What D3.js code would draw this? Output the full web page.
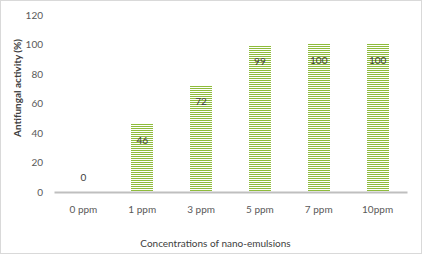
<!DOCTYPE html>
<html>
<head>
<meta charset="utf-8">
<script src="https://cdn.jsdelivr.net/npm/d3@7"></script>
<style>
  body { margin: 0; background: #fff; }
  text { font-family: Lato, "Open Sans", sans-serif; }
</style>
</head>
<body>
<div id="chart"></div>
<script>
const categories = ["0 ppm", "1 ppm", "3 ppm", "5 ppm", "7 ppm", "10ppm"];
const activity = [0, 46, 72, 99, 100, 100];
const yTicks = [0, 20, 40, 60, 80, 100, 120];

const W = 423, H = 255;
const margin = { top: 15, right: 16, bottom: 63, left: 54 },
    width = W - margin.left - margin.right,
    height = H - margin.top - margin.bottom;

const root = d3.select("#chart").append("svg")
    .attr("width", W)
    .attr("height", H);

// outer border
root.append("rect")
    .attr("x", 0.5).attr("y", 0.5)
    .attr("width", W - 2).attr("height", H - 2)
    .attr("fill", "#fff")
    .attr("stroke", "#d9d9d9");

const svg = root.append("g")
    .attr("transform", `translate(${margin.left},${margin.top})`);

const x = d3.scaleBand()
    .domain(categories)
    .range([0, width])
    .padding(0);

const y = d3.scaleLinear()
    .domain([0, 120])
    .range([height, 0]);

const barW = Math.round(x.bandwidth() * 0.375);
const bars = categories.map((c, i) => ({ c: c, v: activity[i] }));

// y axis labels (no line)
const yAxis = svg.append("g")
    .call(d3.axisLeft(y).tickValues(yTicks).tickSize(0).tickPadding(11));
yAxis.select(".domain").remove();
yAxis.selectAll("text")
    .attr("fill", "#595959")
    .style("font-size", "10px");

// bars: thick dashed vertical strokes give the horizontal stripe fill
svg.selectAll("line.bar")
    .data(bars.filter(d => d.v > 0))
    .enter().append("line")
    .attr("class", "bar")
    .attr("x1", d => Math.round(x(d.c) + x.bandwidth() / 2))
    .attr("x2", d => Math.round(x(d.c) + x.bandwidth() / 2))
    .attr("y1", d => Math.round(y(d.v)))
    .attr("y2", height)
    .attr("stroke", "#8fbc3c")
    .attr("stroke-width", barW)
    .attr("stroke-dasharray", "1 1");

// value labels
svg.selectAll("text.val")
    .data(bars)
    .enter().append("text")
    .attr("class", "val")
    .attr("x", d => x(d.c) + x.bandwidth() / 2)
    .attr("y", d => d.v === 0 ? y(0) - 15 : y(d.v) + 16)
    .attr("dy", "0.35em")
    .attr("text-anchor", "middle")
    .attr("fill", "#404040")
    .style("font-size", "10px")
    .text(d => d.v);

// x axis
const xAxis = svg.append("g")
    .attr("transform", `translate(0,${height})`)
    .call(d3.axisBottom(x).tickSize(0).tickPadding(14));
xAxis.select(".domain")
    .attr("stroke", "#bfbfbf")
    .attr("stroke-width", 2);
xAxis.selectAll("text")
    .attr("fill", "#595959")
    .style("font-size", "10px");

// axis titles
svg.append("text")
    .attr("x", width / 2 - 15)
    .attr("y", height + 51)
    .attr("dy", "0.35em")
    .attr("text-anchor", "middle")
    .attr("fill", "#404040")
    .style("font-size", "10px")
    .text("Concentrations  of nano-emulsions");

svg.append("text")
    .attr("transform", `translate(${17 - margin.left},${88 - margin.top}) rotate(-90)`)
    .attr("dy", "0.35em")
    .attr("text-anchor", "middle")
    .attr("fill", "#404040")
    .style("font-size", "10px")
    .style("font-weight", "bold")
    .text("Antifungal activity  (%)");
</script>
</body>
</html>
